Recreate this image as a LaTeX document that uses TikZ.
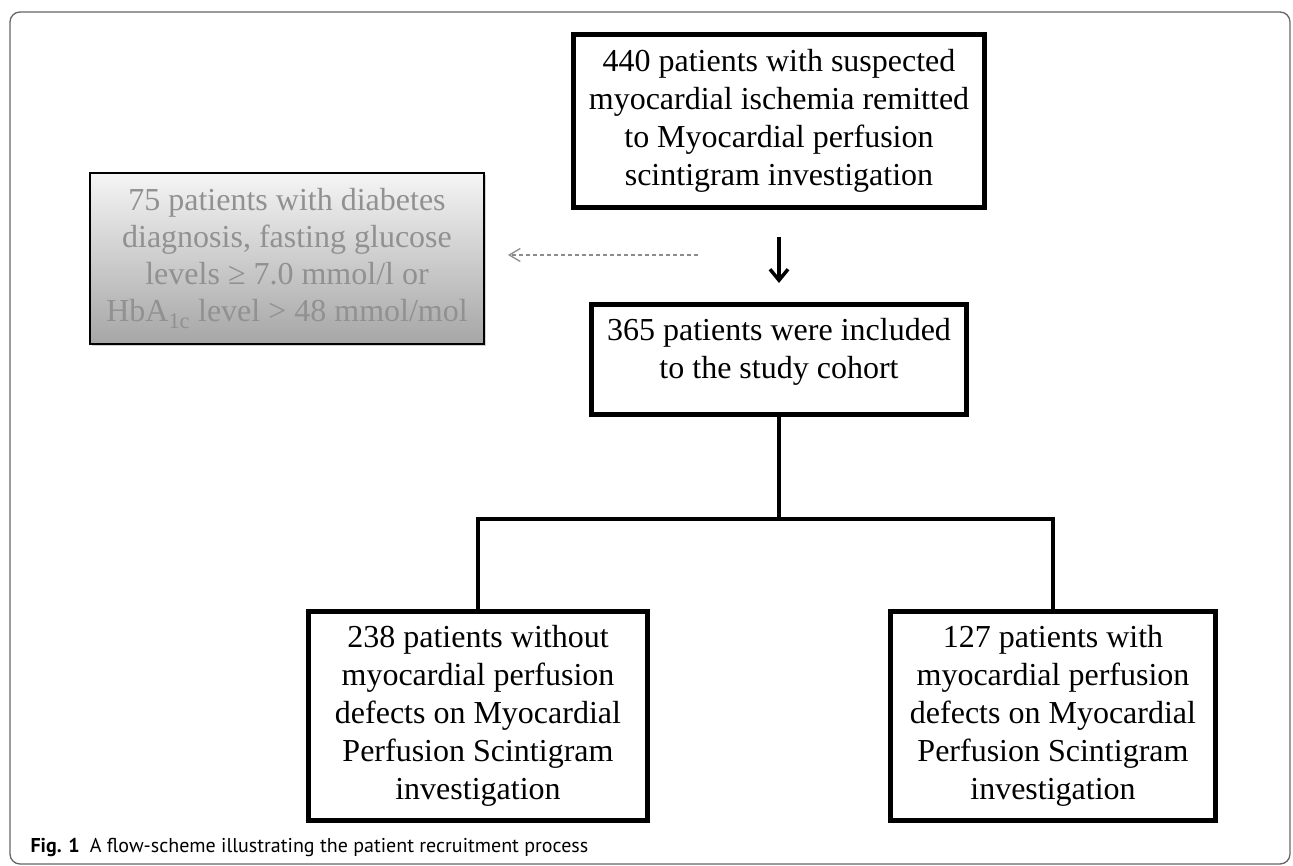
\documentclass[tikz,border=0pt]{standalone}
\usepackage{fontspec}
\setmainfont{Liberation Serif}
\setsansfont{PT Sans}
\usetikzlibrary{arrows.meta,shadows}

\begin{document}
\begin{tikzpicture}[
  x=1pt, y=-1pt,
  boxnode/.style={%
    rectangle,%
    draw=black,%
    %rounded corners=1pt,%
    line width=5pt,%
    inner sep=0pt,%
    align=center,%
    font=\fontsize{32}{38}\selectfont%
  },
  greynode/.style={%
    rectangle,%
    draw=black,%
    line width=2pt,%
    top color=black!4,%
    bottom color=black!35,%
    text=black!43,%
    drop shadow={shadow xshift=2pt,shadow yshift=-2pt,opacity=0.35},%
    inner sep=0pt,%
    align=center,%
    minimum width=394pt,%
    minimum height=171pt,%
    font=\fontsize{32}{37}\selectfont%
  },
  link/.style={line width=3.5pt},
  downlink/.style={line width=3.5pt,-{Straight Barb[length=11pt,width=18pt]}},
  dashlink/.style={%
    draw=black!45,%
    line width=1.3pt,%
    dash pattern=on 4pt off 3pt,%
    -{Straight Barb[length=11pt,width=13pt]}%
  }
]

  \useasboundingbox (0,0) rectangle (1293,866);
  \draw [black!60, line width=1.3pt, rounded corners=10pt] (10,12) rectangle (1290,864);

  \node [boxnode, minimum width=411pt, minimum height=173pt] (referred) at (779,121)
    {440 patients with suspected\\myocardial ischemia remitted\\to Myocardial perfusion\\scintigram investigation};
  \node [boxnode, minimum width=375pt, minimum height=110pt, text depth=22pt] (cohort) at (779,359.5)
    {365 patients were included\\to the study cohort};
  \node [greynode] (excluded) at (287,258.5)
    {75 patients with diabetes\\diagnosis, fasting glucose\\levels ≥ 7.0 mmol/l or\\HbA\textsubscript{1c} level > 48 mmol/mol};
  \node [boxnode, minimum width=339pt, minimum height=209pt] (nodefect) at (478,716)
    {238 patients without\\myocardial perfusion\\defects on Myocardial\\Perfusion Scintigram\\investigation};
  \node [boxnode, minimum width=325pt, minimum height=209pt] (defect) at (1053,716)
    {127 patients with\\myocardial perfusion\\defects on Myocardial\\Perfusion Scintigram\\investigation};

  \coordinate (split) at (779,519);
  \coordinate (dashstart) at (698,255);

  \draw [downlink, shorten <=27pt, shorten >=19pt] (referred.south) -- (cohort.north);
  \draw [dashlink, shorten >=23pt] (dashstart) -- (dashstart -| excluded.east);
  \draw [link] (cohort.south) -- (split);
  \draw [link] (nodefect.north) |- (split) -| (defect.north);

  \node [anchor=base west, font=\sffamily\fontsize{20}{24}\selectfont] (caption) at (27,852)
    {\textbf{Fig. 1}\hspace{10pt}A flow-scheme illustrating the patient recruitment process};

\end{tikzpicture}
\end{document}
